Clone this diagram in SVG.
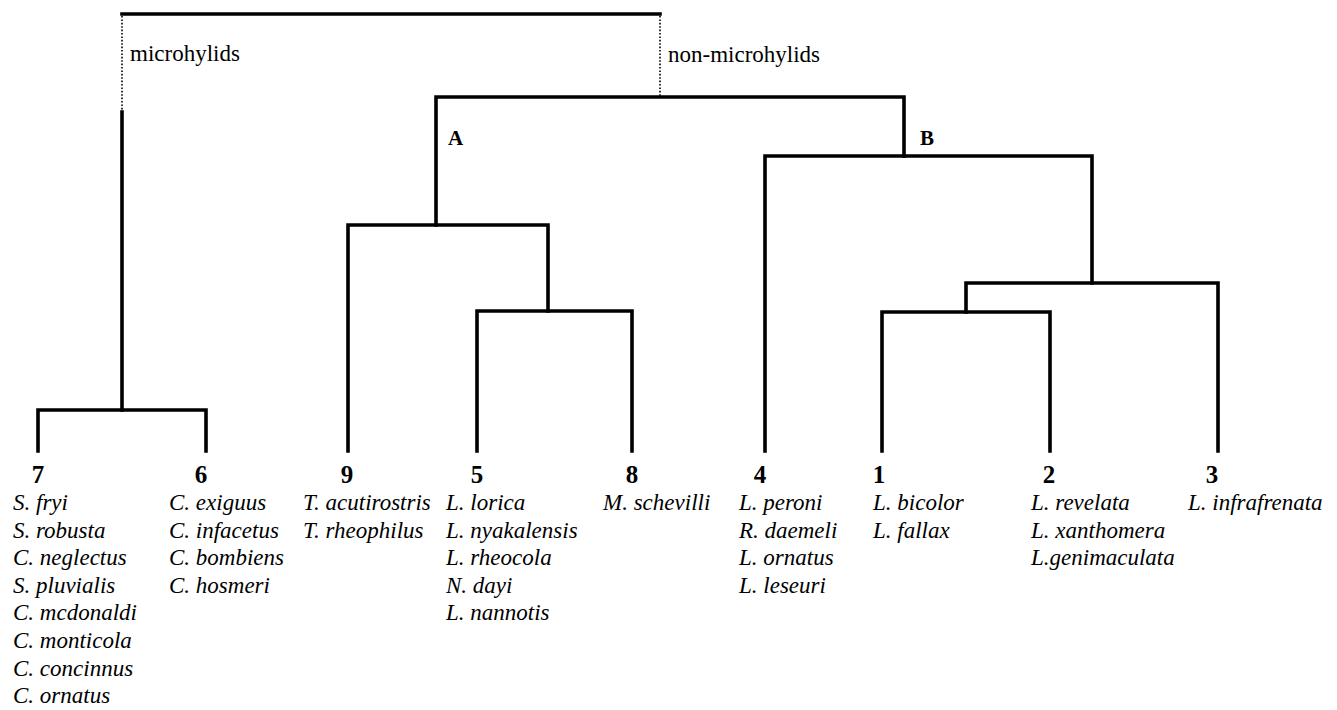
<svg xmlns="http://www.w3.org/2000/svg" width="1337" height="710" viewBox="0 0 1337 710">
<style>
.br{fill:none;stroke:#000;stroke-width:3.6;stroke-linejoin:miter;stroke-linecap:square}
.dot{fill:none;stroke:#000;stroke-width:1.6;stroke-dasharray:1.6 1.8}
.lbl{font-family:"Liberation Serif","Times New Roman",serif;font-size:23px;fill:#000}
.num{font-family:"Liberation Serif","Times New Roman",serif;font-size:25px;font-weight:bold;fill:#000;text-anchor:middle}
.cl{font-family:"Liberation Serif","Times New Roman",serif;font-size:21px;font-weight:bold;fill:#000}
.sp{font-family:"Liberation Serif","Times New Roman",serif;font-size:23px;font-style:italic;fill:#000}
</style>
<rect width="1337" height="710" fill="#fff"/>
<g id="connectors">
<path class="br" d="M122,14 H660"/>
<path class="dot" d="M122,16 V112"/>
<path class="dot" d="M660,16 V97"/>
<path class="br" d="M122,112 V410"/>
<path class="br" d="M38,451 V410 H206 V451"/>
<path class="br" d="M436,225 V97 H904 V156"/>
<path class="br" d="M348,451 V225 H548 V311"/>
<path class="br" d="M477,451 V311 H632 V451"/>
<path class="br" d="M765,451 V156 H1092 V283"/>
<path class="br" d="M966,312 V283 H1218 V451"/>
<path class="br" d="M882,451 V312 H1050 V451"/>
</g>
<g id="group-labels">
<text class="lbl" x="130" y="61">microhylids</text>
<text class="lbl" x="668" y="62">non-microhylids</text>
<text class="cl" x="448" y="145">A</text>
<text class="cl" x="920" y="145">B</text>
</g>
<g id="node-7">
<text class="num" x="38" y="483">7</text>
<text class="sp" x="13" y="510">S. fryi</text>
<text class="sp" x="13" y="537.6">S. robusta</text>
<text class="sp" x="13" y="565.2">C. neglectus</text>
<text class="sp" x="13" y="592.8">S. pluvialis</text>
<text class="sp" x="13" y="620.4">C. mcdonaldi</text>
<text class="sp" x="13" y="648">C. monticola</text>
<text class="sp" x="13" y="675.6">C. concinnus</text>
<text class="sp" x="13" y="703.2">C. ornatus</text>
</g>
<g id="node-6">
<text class="num" x="201" y="483">6</text>
<text class="sp" x="169" y="510">C. exiguus</text>
<text class="sp" x="169" y="537.6">C. infacetus</text>
<text class="sp" x="169" y="565.2">C. bombiens</text>
<text class="sp" x="169" y="592.8">C. hosmeri</text>
</g>
<g id="node-9">
<text class="num" x="347" y="483">9</text>
<text class="sp" x="303" y="510">T. acutirostris</text>
<text class="sp" x="303" y="537.6">T. rheophilus</text>
</g>
<g id="node-5">
<text class="num" x="477" y="483">5</text>
<text class="sp" x="446" y="510">L. lorica</text>
<text class="sp" x="446" y="537.6">L. nyakalensis</text>
<text class="sp" x="446" y="565.2">L. rheocola</text>
<text class="sp" x="446" y="592.8">N. dayi</text>
<text class="sp" x="446" y="620.4">L. nannotis</text>
</g>
<g id="node-8">
<text class="num" x="632" y="483">8</text>
<text class="sp" x="603" y="510">M. schevilli</text>
</g>
<g id="node-4">
<text class="num" x="760" y="483">4</text>
<text class="sp" x="739" y="510">L. peroni</text>
<text class="sp" x="739" y="537.6">R. daemeli</text>
<text class="sp" x="739" y="565.2">L. ornatus</text>
<text class="sp" x="739" y="592.8">L. leseuri</text>
</g>
<g id="node-1">
<text class="num" x="879" y="483">1</text>
<text class="sp" x="873" y="510">L. bicolor</text>
<text class="sp" x="873" y="537.6">L. fallax</text>
</g>
<g id="node-2">
<text class="num" x="1049" y="483">2</text>
<text class="sp" x="1031" y="510">L. revelata</text>
<text class="sp" x="1031" y="537.6">L. xanthomera</text>
<text class="sp" x="1031" y="565.2">L.genimaculata</text>
</g>
<g id="node-3">
<text class="num" x="1212" y="483">3</text>
<text class="sp" x="1188" y="510">L. infrafrenata</text>
</g>
</svg>
